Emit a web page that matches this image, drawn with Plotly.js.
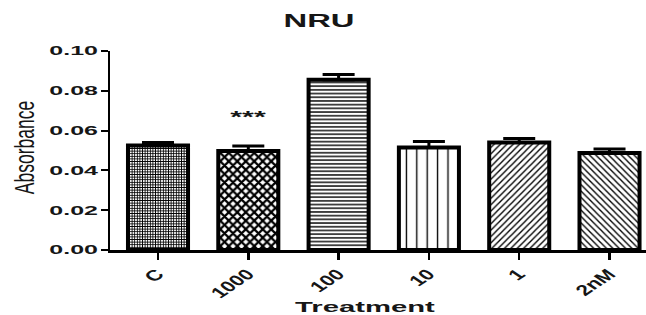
<!DOCTYPE html>
<html>
<head>
<meta charset="utf-8">
<script src="https://cdn.plot.ly/plotly-3.0.1.min.js"></script>
<style>
  html, body { margin: 0; padding: 0; background: #fff; }
  #chart { width: 646px; height: 315px; }
</style>
</head>
<body>
<div id="chart"></div>
<script>
// ---- data ----
const categories = ['C', '1000', '100', '10', '1', '2nM'];
const absorbance = [0.0525, 0.0498, 0.0856, 0.0515, 0.0540, 0.0487];
const sem        = [0.0015, 0.0025, 0.0026, 0.0030, 0.0020, 0.0020];
const yTickVals  = [0, 0.02, 0.04, 0.06, 0.08, 0.10];
const yTickText  = ['0.00', '0.02', '0.04', '0.06', '0.08', '0.10'];
const sigLabel   = '***';
const sigCategory = '1000';
const sigY = 0.0668;

// ---- styling ----
const patShapes    = ['+', 'x', '-', '|', '/', '\\'];
const patSizes     = [2.6, 6, 3.7, 10.4, 4.5, 4.5];
const patSolidity  = [0.55, 0.6, 0.38, 0.13, 0.3, 0.3];
const FONT = 'Liberation Sans, Arial, sans-serif';
const INK = '#161616';

const trace = {
  type: 'bar',
  x: categories,
  y: absorbance,
  width: 0.665,
  marker: {
    color: '#ffffff',
    line: { color: '#000000', width: 4 },
    pattern: {
      shape: patShapes,
      size: patSizes,
      solidity: patSolidity,
      fgcolor: '#000000',
      bgcolor: '#ffffff',
      fillmode: 'replace'
    }
  },
  error_y: {
    type: 'data',
    symmetric: false,
    array: sem,
    arrayminus: sem.map(() => 0),
    color: '#000000',
    thickness: 3,
    width: 16
  },
  hoverinfo: 'none'
};

const layout = {
  width: 646,
  height: 315,
  margin: { l: 110, r: 0, t: 51, b: 65, pad: 0 },
  paper_bgcolor: '#ffffff',
  plot_bgcolor: '#ffffff',
  showlegend: false,
  title: {
    text: 'NRU',
    font: { family: FONT, size: 18, weight: 700, color: INK },
    x: 319 / 646, xref: 'container', xanchor: 'center',
    y: 1 - 20.5 / 315, yref: 'container', yanchor: 'middle'
  },
  xaxis: {
    type: 'category',
    range: [-0.5316, 5.404],
    showline: true, linecolor: '#000000', linewidth: 2.5,
    ticks: 'outside', ticklen: 7, tickwidth: 2.5, tickcolor: '#000000',
    tickangle: -45,
    tickfont: { family: FONT, size: 15, weight: 700, color: INK },
    showgrid: false, zeroline: false,
    title: {
      text: 'Treatment',
      font: { family: FONT, size: 15, weight: 700, color: INK },
      standoff: 6
    }
  },
  yaxis: {
    range: [0, 0.10],
    tickvals: yTickVals,
    ticktext: yTickText,
    showline: true, linecolor: '#000000', linewidth: 2.5,
    ticks: 'outside', ticklen: 7, tickwidth: 2, tickcolor: '#000000',
    tickfont: { family: FONT, size: 12.5, weight: 700, color: INK },
    showgrid: false, zeroline: false,
    title: {
      text: 'Absorbance',
      font: { family: FONT, size: 17.5, weight: 400, color: INK },
      standoff: 40
    }
  },
  annotations: [{
    x: categories.indexOf(sigCategory), y: sigY, xref: 'x', yref: 'y',
    text: sigLabel, showarrow: false,
    font: { family: FONT, size: 16, weight: 700, color: INK },
    xanchor: 'center', yanchor: 'middle'
  }]
};

// The reference's lettering is drawn horizontally widened; reproduce that
// by stretching each text element around its anchor after rendering.
const NS = 'http://www.w3.org/2000/svg';
function stretch(nodes, sx, anchor, dx, dy) {
  dx = dx || 0; dy = dy || 0;
  nodes.forEach(t => {
    const g = document.createElementNS(NS, 'g');
    t.parentNode.insertBefore(g, t);
    g.appendChild(t);
    const b = g.getBBox();
    let ax, ay;
    if (anchor === 'right') { ax = b.x + b.width; ay = b.y + b.height / 2; }
    else if (anchor === 'topright') { ax = b.x + b.width; ay = b.y; }
    else { ax = b.x + b.width / 2; ay = b.y + b.height / 2; }
    g.setAttribute('transform',
      'translate(' + (ax + dx) + ' ' + (ay + dy) + ') scale(' + sx + ' 1) translate(' + (-ax) + ' ' + (-ay) + ')');
  });
}

Plotly.newPlot('chart', [trace], layout, { staticPlot: true, displayModeBar: false })
  .then(gd => {
    const q = s => Array.from(gd.querySelectorAll(s));
    stretch(q('.ytick text'), 2.0, 'right');
    stretch(q('.xtick text'), 1.5, 'topright', 3, 0);
    stretch(q('.gtitle'), 1.82, 'center');
    stretch(q('.xtitle'), 1.95, 'center', -13, 0);
    stretch(q('.ytitle'), 1.6, 'center', 2, -3);
    stretch(q('.annotation-text'), 1.9, 'center');
  });
</script>
</body>
</html>
